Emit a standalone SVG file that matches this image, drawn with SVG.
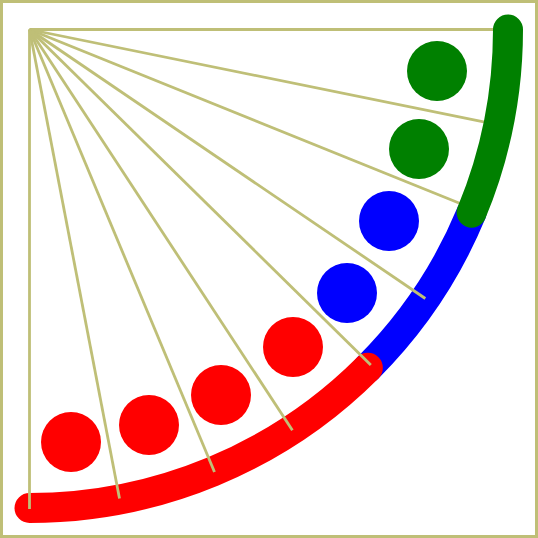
<svg xmlns="http://www.w3.org/2000/svg" width="538" height="538" viewBox="0 0 538 538">
  <style>
    .frame { fill: #ffffff; stroke: #bfbf77; stroke-width: 3; }
    .ray { stroke: #bfbf77; stroke-width: 2.8; fill: none; }
    .band { fill: none; stroke-width: 30; stroke-linecap: round; }
    .red { fill: #ff0000; }
    .blue { fill: #0000ff; }
    .green { fill: #008000; }
  </style>
  <rect class="frame" x="1.5" y="1.5" width="535" height="535"/>
  <g id="arc-blue">
    <path class="band" stroke="#0000ff" d="M 471.6 212.6 A 478.5 478.5 0 0 1 367.85 367.85"/>
  </g>
  <g id="arc-red">
    <path class="band" stroke="#ff0000" d="M 367.85 367.85 A 478.5 478.5 0 0 1 29.5 508"/>
  </g>
  <g id="connectors">
    <line class="ray" x1="29.5" y1="29.5" x2="508" y2="29.5"/>
    <line class="ray" x1="29.5" y1="29.5" x2="498.4" y2="124.9"/>
    <line class="ray" x1="29.5" y1="29.5" x2="473.2" y2="208.8"/>
    <line class="ray" x1="29.5" y1="29.5" x2="425.3" y2="298.5"/>
    <line class="ray" x1="29.5" y1="29.5" x2="370.8" y2="364.9"/>
    <line class="ray" x1="29.5" y1="29.5" x2="292.4" y2="430.2"/>
    <line class="ray" x1="29.5" y1="29.5" x2="214.5" y2="472"/>
    <line class="ray" x1="29.5" y1="29.5" x2="119.5" y2="498.5"/>
    <line class="ray" x1="29.5" y1="29.5" x2="29.5" y2="509"/>
  </g>
  <g id="arc-green">
    <path class="band" stroke="#008000" d="M 508 29.5 A 478.5 478.5 0 0 1 471.6 212.6"/>
  </g>
  <g id="circle-green-1"><circle class="green" cx="437" cy="71" r="30"/></g>
  <g id="circle-green-2"><circle class="green" cx="419" cy="149" r="30"/></g>
  <g id="circle-blue-1"><circle class="blue" cx="389" cy="221" r="30"/></g>
  <g id="circle-blue-2"><circle class="blue" cx="347" cy="293" r="30"/></g>
  <g id="circle-red-1"><circle class="red" cx="293" cy="347" r="30"/></g>
  <g id="circle-red-2"><circle class="red" cx="221" cy="395" r="30"/></g>
  <g id="circle-red-3"><circle class="red" cx="149" cy="425" r="30"/></g>
  <g id="circle-red-4"><circle class="red" cx="71" cy="442" r="30"/></g>
</svg>
